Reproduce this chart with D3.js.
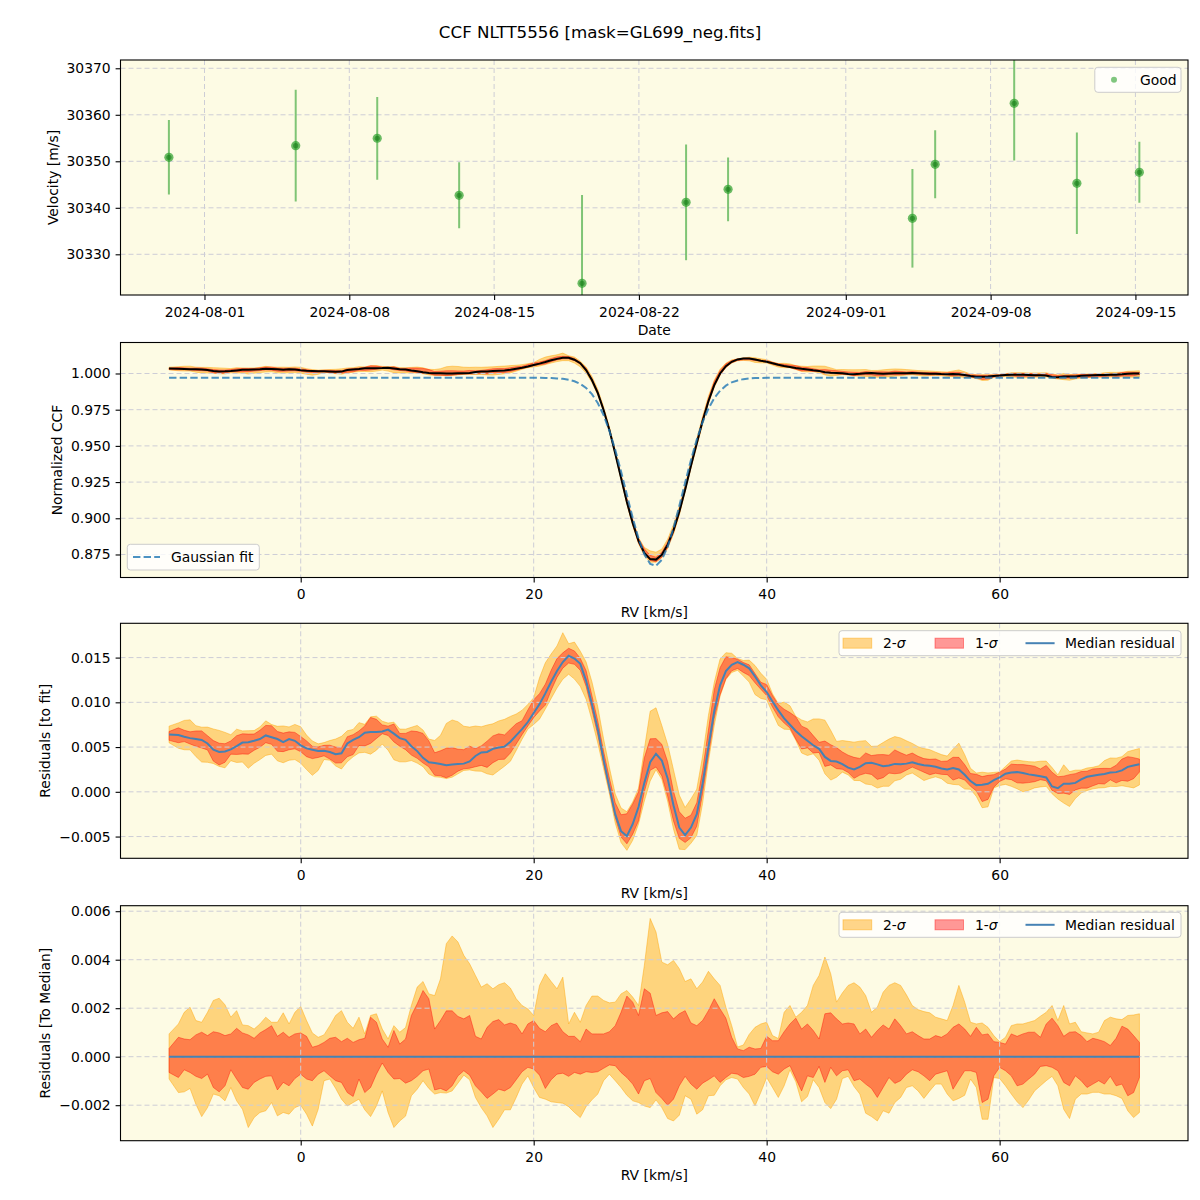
<!DOCTYPE html>
<html><head><meta charset="utf-8">
<script src="https://cdn.jsdelivr.net/npm/d3@7"></script>
<style>body{margin:0;background:#fff}svg{display:block}</style>
</head><body>
<svg id="c" width="1200" height="1200"></svg>
<script>
// ---------------- DATA ----------------
const obsDates = ["2024-07-30T06:43Z","2024-08-05T09:50Z","2024-08-09T08:24Z","2024-08-13T07:26Z","2024-08-19T06:00Z","2024-08-24T06:43Z","2024-08-26T07:26Z","2024-09-04T05:17Z","2024-09-05T07:41Z","2024-09-09T03:22Z","2024-09-12T04:05Z","2024-09-15T04:34Z"];
const velocity = [30350.86,30353.36,30354.95,30342.69,30323.76,30341.18,30343.98,30337.74,30349.35,30362.47,30345.27,30347.63];
const velErr = [8.0,12.0,8.9,7.1,19.0,12.45,6.85,10.6,7.3,12.3,10.9,6.55];
const dateTicks = ["2024-08-01","2024-08-08","2024-08-15","2024-08-22","2024-09-01","2024-09-08","2024-09-15"];
const velTicks = [30330,30340,30350,30360,30370];
const rvTicks = [0,20,40,60];
const ccfTicks = [0.875,0.900,0.925,0.950,0.975,1.000];
const resTicks = [-0.005,0.000,0.005,0.010,0.015];
const medTicks = [-0.002,0.000,0.002,0.004,0.006];

// RV grid: first sample at -11.3 km/s, then -10.5 .. 72 km/s in 0.5 km/s steps (167 samples)
const rvFirst = -11.3, rvStart = -10.5, rvStep = 0.5, rvEnd = 72;

// Gaussian fit to the CCF (normalized units)
const gaussFit = [
0.997,0.997,0.997,0.997,0.997,0.997,0.997,0.997,0.997,0.997,
0.997,0.997,0.997,0.997,0.997,0.997,0.997,0.997,0.997,0.997,
0.997,0.997,0.997,0.997,0.997,0.997,0.997,0.997,0.997,0.997,
0.997,0.997,0.997,0.997,0.997,0.997,0.997,0.997,0.997,0.997,
0.997,0.997,0.997,0.997,0.997,0.997,0.997,0.997,0.997,0.997,
0.997,0.997,0.997,0.997,0.997,0.997,0.997,0.997,0.997,0.997,
0.997,0.997,0.997,0.997,0.9969,0.9968,0.9966,0.9963,0.9957,0.9946,
0.9928,0.9900,0.9857,0.9796,0.9712,0.9604,0.9473,0.9323,0.9162,0.9003,
0.8861,0.8751,0.8685,0.8672,0.8713,0.8803,0.8932,0.9085,0.9246,0.9403,
0.9544,0.9663,0.9758,0.9830,0.9881,0.9916,0.9939,0.9952,0.9961,0.9965,
0.9968,0.9969,0.997,0.997,0.997,0.997,0.997,0.997,0.997,0.997,
0.997,0.997,0.997,0.997,0.997,0.997,0.997,0.997,0.997,0.997,
0.997,0.997,0.997,0.997,0.997,0.997,0.997,0.997,0.997,0.997,
0.997,0.997,0.997,0.997,0.997,0.997,0.997,0.997,0.997,0.997,
0.997,0.997,0.997,0.997,0.997,0.997,0.997,0.997,0.997,0.997,
0.997,0.997,0.997,0.997,0.997,0.997,0.997,0.997,0.997,0.997,
0.997,0.997,0.997,0.997,0.997,0.997,0.997];

// Median residual to the fit (units of 1e-3)
const medianResidual = [
6.40,6.35,6.15,6.00,5.90,5.80,5.40,4.70,4.45,4.50,
4.75,5.10,5.50,5.55,5.70,5.90,6.30,6.10,5.90,5.55,
5.90,5.70,5.20,4.85,4.70,4.56,4.60,4.45,4.20,4.30,
5.40,5.80,6.10,6.60,6.68,6.68,6.75,6.95,6.50,6.00,
5.80,5.10,4.55,3.80,3.30,3.22,3.10,2.98,3.05,3.10,
3.15,3.40,4.00,4.40,4.45,4.80,4.95,5.05,5.60,6.30,
7.00,7.80,8.80,9.80,11.0,12.3,13.5,14.5,15.2,14.9,
14.3,12.4,9.80,7.00,3.60,0.50,-2.50,-4.40,-4.95,-3.60,
-1.70,1.00,3.30,4.25,3.50,1.50,-1.50,-4.00,-4.85,-4.00,
-2.50,0.90,5.00,9.00,11.9,13.5,14.2,14.5,14.2,13.8,
12.9,11.9,11.15,10.1,9.10,8.20,7.50,6.80,6.20,5.70,
5.20,4.80,3.90,3.45,3.38,3.10,2.70,2.50,2.79,3.20,
3.25,3.07,2.85,2.95,3.12,3.08,3.15,3.30,3.10,2.98,
2.90,2.80,2.60,2.50,2.65,2.50,1.90,1.20,0.75,0.80,
0.90,1.30,1.60,2.03,2.15,2.20,2.10,1.95,1.85,1.75,
1.60,0.60,0.40,0.91,0.91,1.00,1.40,1.68,1.80,1.90,
2.00,2.15,2.20,2.40,2.79,2.95,3.07];

// Quantile offsets relative to the median (units of 1e-3)
const sigma2Upper = [
0.94,1.35,1.83,2.04,1.49,1.42,1.83,2.32,2.41,2.14,
1.63,1.90,1.31,1.28,1.14,1.35,1.63,1.42,1.42,1.81,
1.35,1.83,2.07,1.49,0.98,0.80,0.90,1.28,1.70,1.90,
1.42,1.17,1.63,0.94,1.70,1.77,1.14,0.73,1.28,1.01,
1.20,2.11,2.87,3.10,2.59,2.52,3.21,4.66,4.98,4.73,
4.18,3.83,3.35,2.87,3.01,2.80,2.97,3.05,2.83,2.39,
2.11,1.97,1.70,2.94,3.42,3.10,2.80,3.28,1.35,1.83,
1.42,2.11,2.50,2.50,2.32,2.22,2.25,2.59,2.73,2.46,
2.11,3.77,5.70,5.14,3.90,3.79,3.97,3.63,3.10,3.21,
2.80,3.08,3.52,3.21,2.94,2.04,1.28,0.40,0.48,0.92,
1.21,1.35,1.42,0.87,0.75,1.83,2.11,1.63,1.83,2.11,
2.94,3.35,4.11,3.42,2.25,2.63,2.94,3.05,2.87,2.52,
1.83,2.04,2.66,2.94,3.05,2.94,2.55,2.11,1.94,1.86,
1.81,1.63,1.56,1.49,2.11,2.94,2.25,1.42,1.35,1.39,
1.21,0.87,0.62,0.80,1.28,1.35,1.35,1.42,1.49,1.67,
1.83,2.11,1.49,2.11,1.35,1.42,1.03,0.98,0.94,1.01,
1.49,1.63,1.56,1.53,1.70,1.72,1.77];
const sigma1Upper = [
0.34,0.80,0.73,0.70,0.90,1.01,0.87,1.03,0.98,0.87,
0.94,1.17,0.98,0.90,0.76,0.98,1.12,1.28,0.84,1.01,
0.80,0.94,0.98,0.84,0.39,0.46,0.59,0.76,0.80,0.62,
0.76,0.59,0.70,0.76,1.63,1.42,0.73,0.39,1.08,0.52,
0.73,1.70,2.18,2.73,2.39,1.14,1.49,1.89,1.89,1.66,
1.56,1.70,0.84,0.73,1.21,1.45,1.53,1.31,1.39,1.31,
0.94,1.35,1.49,1.17,1.03,1.28,1.39,1.03,0.84,0.84,
0.62,1.14,0.94,0.94,0.94,1.03,1.28,1.83,2.50,2.25,
1.70,2.80,2.62,1.70,1.81,1.86,1.56,1.77,1.90,1.39,
1.28,1.49,1.90,2.39,1.97,1.59,0.80,0.32,0.25,0.39,
0.32,0.34,0.84,0.66,0.66,1.03,1.35,1.59,1.14,1.35,
1.08,0.73,1.77,1.81,1.56,1.35,1.39,1.35,0.94,1.14,
0.80,1.08,1.31,1.14,1.56,1.28,0.94,1.03,0.87,0.73,
0.73,0.87,0.80,0.94,1.21,1.35,1.14,0.84,1.21,0.90,
0.94,0.62,0.59,0.52,0.94,0.84,0.94,1.01,1.01,0.80,
1.35,1.59,1.28,0.84,1.01,1.03,0.87,0.62,0.76,0.70,
0.62,0.46,0.76,1.26,1.14,0.87,0.59];
const sigma1Lower = [
-0.65,-0.86,-0.54,-0.65,-0.81,-0.90,-0.72,-1.27,-1.45,-1.20,
-0.54,-0.92,-1.27,-1.34,-1.06,-0.92,-0.81,-0.79,-1.37,-1.06,
-1.20,-0.90,-0.72,-0.92,-0.99,-0.72,-0.58,-0.79,-0.99,-1.06,
-1.48,-1.64,-0.92,-1.48,-1.27,-0.72,-0.26,-0.65,-0.92,-0.90,
-1.09,-0.99,-0.81,-0.58,-0.51,-1.37,-1.31,-1.41,-1.20,-0.79,
-0.58,-0.76,-1.20,-1.45,-1.72,-1.54,-1.34,-1.41,-1.27,-0.95,
-0.62,-0.44,-0.51,-0.76,-1.31,-0.95,-0.72,-0.68,-0.81,-0.65,
-0.72,-0.62,-0.65,-0.62,-0.48,-0.34,-0.37,-0.65,-0.86,-1.13,
-1.54,-0.99,-0.90,-1.48,-1.72,-2.00,-1.75,-1.20,-0.81,-1.13,
-1.34,-1.09,-0.95,-0.79,-1.06,-0.86,-0.68,-0.72,-0.86,-0.81,
-0.72,-0.44,-0.40,-0.62,-0.72,-0.51,-0.37,-0.90,-1.41,-0.79,
-0.86,-0.40,-1.06,-0.44,-0.79,-0.58,-0.54,-0.99,-0.92,-1.13,
-1.31,-1.68,-1.27,-0.86,-1.10,-0.99,-0.72,-0.54,-0.62,-0.79,
-0.99,-0.72,-0.65,-0.58,-1.34,-0.95,-0.58,-0.58,-0.65,-1.89,
-1.75,-0.79,-0.44,-0.58,-0.79,-1.20,-1.13,-0.92,-0.72,-0.40,
-0.37,-0.44,-0.58,-1.06,-1.20,-0.79,-0.99,-1.27,-1.13,-0.99,
-1.13,-0.81,-1.20,-1.13,-1.61,-1.48,-0.86];
const sigma2Lower = [
-0.92,-1.48,-1.45,-1.31,-1.96,-2.47,-2.10,-1.54,-1.61,-1.82,
-1.27,-1.82,-2.17,-2.92,-2.51,-2.30,-2.23,-1.89,-2.44,-2.30,
-2.37,-2.10,-2.00,-2.37,-2.86,-2.17,-0.99,-0.92,-1.31,-1.75,
-2.03,-1.89,-1.75,-2.19,-2.47,-2.03,-1.41,-2.30,-2.92,-2.65,
-2.45,-1.61,-1.34,-0.99,-1.31,-1.54,-1.48,-1.50,-1.41,-1.09,
-0.76,-0.95,-1.68,-2.10,-2.44,-2.92,-2.58,-2.19,-2.19,-1.68,
-1.13,-0.79,-1.27,-1.68,-1.75,-1.86,-1.89,-1.92,-2.06,-2.30,
-2.51,-2.06,-1.78,-1.54,-0.99,-0.72,-0.99,-1.27,-1.59,-1.82,
-1.89,-2.03,-2.10,-1.78,-2.10,-2.55,-2.65,-2.41,-1.61,-1.75,
-2.37,-2.19,-1.61,-1.59,-1.20,-0.95,-0.86,-0.92,-1.27,-1.54,
-2.03,-1.47,-0.86,-1.27,-1.68,-1.20,-0.54,-1.03,-1.86,-1.64,
-0.95,-1.27,-1.89,-2.14,-1.75,-0.90,-0.81,-1.23,-1.54,-2.33,
-2.47,-2.65,-2.23,-2.33,-1.89,-1.68,-1.27,-1.20,-1.41,-1.72,
-1.41,-1.13,-1.13,-1.54,-1.82,-1.72,-1.59,-0.92,-1.27,-2.58,
-2.58,-0.86,-0.90,-1.20,-1.54,-1.86,-2.10,-1.78,-1.41,-1.20,
-0.99,-0.81,-1.20,-2.17,-2.55,-1.75,-1.54,-1.54,-1.47,-1.47,
-1.54,-1.54,-1.61,-1.72,-2.23,-2.51,-2.30];

// ---------------- LAYOUT / STYLE ----------------
const FONT = '"DejaVu Sans", sans-serif';
const BG = '#fdfbe4';
const GRIDC = '#cdcdd6';
const C2S = 'rgba(255,165,0,0.45)';
const C1S = 'rgba(255,0,0,0.4)';
const MEDC = '#4682b4';
const L = 120.5, R = 1188, H = 235;
const tops = [60, 342.5, 623.3, 905.7];
const svg = d3.select('#c');
const defs = svg.append('defs');

const rv = [rvFirst, ...d3.range(rvStart, rvEnd + 0.001, rvStep)];
const S = 1e-3;
const rows = rv.map((v, i) => ({
  rv: v,
  fit: gaussFit[i],
  med: medianResidual[i] * S,
  lo2: sigma2Lower[i] * S, lo1: sigma1Lower[i] * S,
  hi1: sigma1Upper[i] * S, hi2: sigma2Upper[i] * S
}));

function panel(i, x, y, xt, yt, xfmt, yfmt) {
  const top = tops[i], bot = top + H;
  const root = svg.append('g');
  root.append('rect').attr('x', L).attr('y', top).attr('width', R - L).attr('height', H).attr('fill', BG);
  const id = 'clip' + i;
  defs.append('clipPath').attr('id', id).append('rect').attr('x', L).attr('y', top).attr('width', R - L).attr('height', H);
  const fills = root.append('g').attr('clip-path', `url(#${id})`);
  const grid = root.append('g');
  xt.forEach(v => grid.append('line').attr('x1', x(v)).attr('x2', x(v)).attr('y1', top).attr('y2', bot));
  yt.forEach(v => grid.append('line').attr('x1', L).attr('x2', R).attr('y1', y(v)).attr('y2', y(v)));
  grid.selectAll('line').attr('stroke', GRIDC).attr('stroke-width', 1).attr('stroke-dasharray', '5,3');
  const lines = root.append('g').attr('clip-path', `url(#${id})`);
  root.append('rect').attr('x', L).attr('y', top).attr('width', R - L).attr('height', H)
    .attr('fill', 'none').attr('stroke', '#000').attr('stroke-width', 1.1);
  const ax = root.append('g').attr('transform', `translate(0,${bot})`)
    .call(d3.axisBottom(x).tickValues(xt).tickFormat(xfmt).tickSize(4.9).tickPadding(4.9));
  const ay = root.append('g').attr('transform', `translate(${L},0)`)
    .call(d3.axisLeft(y).tickValues(yt).tickFormat(yfmt).tickSize(4.9).tickPadding(4.9));
  [ax, ay].forEach(a => {
    a.select('.domain').remove();
    a.selectAll('.tick line').attr('stroke', '#000').attr('stroke-width', 1.1);
    a.selectAll('.tick text').attr('fill', '#000').style('font-size', '13.9px').style('font-family', FONT);
  });
  ax.selectAll('.tick text').attr('dy', '0.85em');
  return { fills, lines, top, bot };
}

function text(x, y, s, opts = {}) {
  const t = svg.append('text').attr('x', x).attr('y', y).text(s)
    .style('font-family', FONT).style('font-size', (opts.size || 13.9) + 'px').attr('fill', '#000')
    .attr('text-anchor', opts.anchor || 'middle');
  if (opts.rotate) {
    t.attr('transform', `rotate(-90,${x},${y})`).attr('dominant-baseline', 'central');
  }
  return t;
}

function legendBox(x0, y0, w, h) {
  svg.append('rect').attr('x', x0).attr('y', y0).attr('width', w).attr('height', h).attr('rx', 3)
    .attr('fill', 'rgba(255,255,255,0.8)').attr('stroke', '#cccccc').attr('stroke-width', 1);
}

// Title
text(600, 38, 'CCF NLTT5556 [mask=GL699_neg.fits]', { size: 16.7 });

// ---------------- Panel 1: RV time series ----------------
const xDate = d3.scaleUtc().domain([new Date('2024-07-27T22:34Z'), new Date('2024-09-17T13:00Z')]).range([L, R]);
const yVel = d3.scaleLinear().domain([30321.25, 30371.78]).range([tops[0] + H, tops[0]]);
const p1 = panel(0, xDate, yVel, dateTicks.map(d => new Date(d + 'T00:00Z')), velTicks,
  d3.utcFormat('%Y-%m-%d'), d3.format('d'));
const obs = obsDates.map((d, i) => ({ t: new Date(d), v: velocity[i], e: velErr[i] }));
p1.lines.selectAll('line.err').data(obs).join('line')
  .attr('x1', d => xDate(d.t)).attr('x2', d => xDate(d.t))
  .attr('y1', d => yVel(d.v - d.e)).attr('y2', d => yVel(d.v + d.e))
  .attr('stroke', 'rgba(44,160,44,0.6)').attr('stroke-width', 2);
p1.lines.selectAll('circle.m').data(obs).join('circle')
  .attr('cx', d => xDate(d.t)).attr('cy', d => yVel(d.v)).attr('r', 4.6)
  .attr('fill', 'rgba(44,160,44,0.7)');
p1.lines.selectAll('circle.c').data(obs).join('circle')
  .attr('cx', d => xDate(d.t)).attr('cy', d => yVel(d.v)).attr('r', 2.6)
  .attr('fill', 'rgba(20,120,20,0.55)');
text((L + R) / 2, tops[0] + H + 39.5, 'Date');
text(52.8, tops[0] + H / 2, 'Velocity [m/s]', { rotate: true });
legendBox(1094.8, 67.3, 86.2, 25);
svg.append('circle').attr('cx', 1114).attr('cy', 79.8).attr('r', 3).attr('fill', 'rgba(44,160,44,0.6)');
text(1140, 84.8, 'Good', { anchor: 'start' });

// ---------------- shared RV scale ----------------
const xRV = d3.scaleLinear().domain([-15.47, 76.17]).range([L, R]);

function bands(p, y, base) {
  const a2 = d3.area().x(d => xRV(d.rv)).y0(d => y(base(d) + d.med + d.lo2)).y1(d => y(base(d) + d.med + d.hi2));
  const a1 = d3.area().x(d => xRV(d.rv)).y0(d => y(base(d) + d.med + d.lo1)).y1(d => y(base(d) + d.med + d.hi1));
  p.fills.append('path').datum(rows).attr('d', a2).attr('fill', C2S).attr('stroke', C2S).attr('stroke-width', 1);
  p.fills.append('path').datum(rows).attr('d', a1).attr('fill', C1S).attr('stroke', C1S).attr('stroke-width', 1);
}

// ---------------- Panel 2: CCF ----------------
const yCCF = d3.scaleLinear().domain([0.8591, 1.0214]).range([tops[1] + H, tops[1]]);
const p2 = panel(1, xRV, yCCF, rvTicks, ccfTicks, d3.format('d'), d3.format('.3f'));
bands(p2, yCCF, d => d.fit);
p2.lines.append('path').datum(rows)
  .attr('d', d3.line().x(d => xRV(d.rv)).y(d => yCCF(d.fit + d.med)))
  .attr('fill', 'none').attr('stroke', '#000').attr('stroke-width', 2);
p2.lines.append('path').datum(rows)
  .attr('d', d3.line().x(d => xRV(d.rv)).y(d => yCCF(d.fit)))
  .attr('fill', 'none').attr('stroke', 'rgba(31,119,180,0.8)').attr('stroke-width', 2).attr('stroke-dasharray', '7.4,3.2');
text((L + R) / 2, tops[1] + H + 39.5, 'RV [km/s]');
text(57, tops[1] + H / 2, 'Normalized CCF', { rotate: true });
legendBox(127.3, 544.3, 132, 25.7);
svg.append('line').attr('x1', 133).attr('x2', 160).attr('y1', 557).attr('y2', 557)
  .attr('stroke', 'rgba(31,119,180,0.8)').attr('stroke-width', 2).attr('stroke-dasharray', '7.4,3.2');
text(171, 562, 'Gaussian fit', { anchor: 'start' });

// ---------------- Panel 3: residuals to fit ----------------
const yRes = d3.scaleLinear().domain([-0.00743, 0.018832]).range([tops[2] + H, tops[2]]);
const p3 = panel(2, xRV, yRes, rvTicks, resTicks, d3.format('d'), d3.format('.3f'));
bands(p3, yRes, d => 0);
p3.lines.append('path').datum(rows)
  .attr('d', d3.line().x(d => xRV(d.rv)).y(d => yRes(d.med)))
  .attr('fill', 'none').attr('stroke', MEDC).attr('stroke-width', 2);
text((L + R) / 2, tops[2] + H + 39.5, 'RV [km/s]');
text(45, tops[2] + H / 2, 'Residuals [to fit]', { rotate: true });

// ---------------- Panel 4: residuals to median ----------------
const yMed = d3.scaleLinear().domain([-0.003464, 0.006227]).range([tops[3] + H, tops[3]]);
const p4 = panel(3, xRV, yMed, rvTicks, medTicks, d3.format('d'), d3.format('.3f'));
bands(p4, yMed, d => -d.med);
p4.lines.append('path').datum(rows)
  .attr('d', d3.line().x(d => xRV(d.rv)).y(d => yMed(0 * d.med)))
  .attr('fill', 'none').attr('stroke', MEDC).attr('stroke-width', 2);
text((L + R) / 2, tops[3] + H + 39.5, 'RV [km/s]');
text(45, tops[3] + H / 2, 'Residuals [To Median]', { rotate: true });

// legends for panels 3 & 4
function sigmaLegend(y0) {
  legendBox(839, y0, 342, 25);
  const cy = y0 + 12.5;
  svg.append('rect').attr('x', 843).attr('y', cy - 5).attr('width', 28.7).attr('height', 10)
    .attr('fill', C2S).attr('stroke', C2S);
  const t1 = text(883, cy + 5, '2-', { anchor: 'start' });
  t1.append('tspan').style('font-style', 'italic').text('σ');
  svg.append('rect').attr('x', 935).attr('y', cy - 5).attr('width', 28.5).attr('height', 10)
    .attr('fill', C1S).attr('stroke', C1S);
  const t2 = text(975, cy + 5, '1-', { anchor: 'start' });
  t2.append('tspan').style('font-style', 'italic').text('σ');
  svg.append('line').attr('x1', 1025.5).attr('x2', 1054.6).attr('y1', cy).attr('y2', cy)
    .attr('stroke', MEDC).attr('stroke-width', 2);
  text(1065, cy + 5, 'Median residual', { anchor: 'start' });
}
sigmaLegend(630.7);
sigmaLegend(912.3);
</script>
</body></html>
